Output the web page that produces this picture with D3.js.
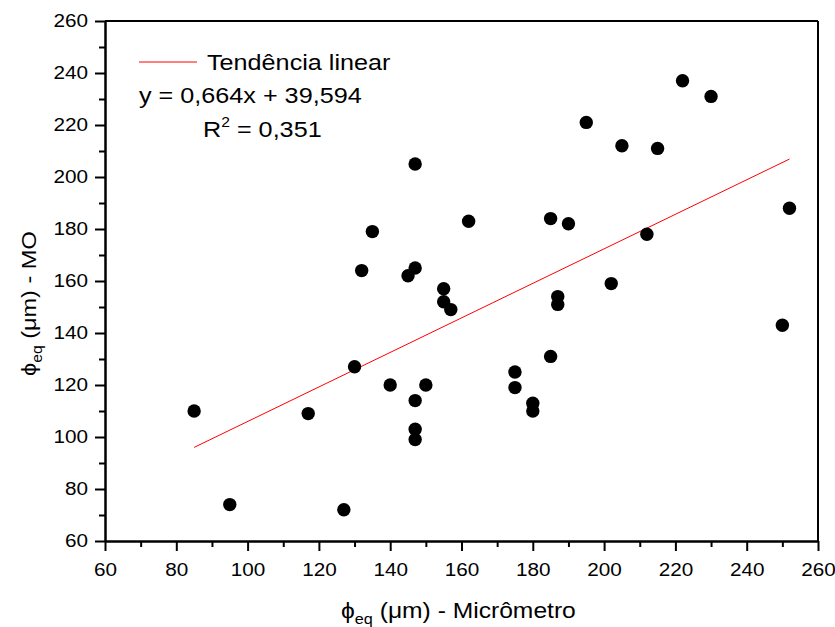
<!DOCTYPE html>
<html>
<head>
<meta charset="utf-8">
<script src="https://cdnjs.cloudflare.com/ajax/libs/d3/7.8.5/d3.min.js"></script>
<style>
  body { margin: 0; background: #fff; }
  text { font-family: "Liberation Sans", Arial, sans-serif; fill: #000; }
</style>
</head>
<body>
<div id="chart"></div>
<script>
// data
var diamMicro = [85, 95, 117, 127, 130, 132, 135, 140, 145, 147, 147, 147, 147, 147, 150,
                 155, 155, 157, 162, 175, 175, 180, 180, 185, 185, 187, 187, 190, 195, 202,
                 205, 212, 215, 222, 230, 250, 252];
var diamMO    = [110, 74, 109, 72, 127, 164, 179, 120, 162, 205, 165, 114, 103, 99, 120,
                 157, 152, 149, 183, 125, 119, 113, 110, 184, 131, 154, 151, 182, 221, 159,
                 212, 178, 211, 237, 231, 143, 188];

// linear fit end points
var trendX = [85, 252];
var trendY = [96.0, 206.9];

var xTicks = [60, 80, 100, 120, 140, 160, 180, 200, 220, 240, 260];
var xMinor = [70, 90, 110, 130, 150, 170, 190, 210, 230, 250];
var yTicks = [60, 80, 100, 120, 140, 160, 180, 200, 220, 240, 260];
var yMinor = [70, 90, 110, 130, 150, 170, 190, 210, 230, 250];

var STRETCH = 1.12;

var margin = {top: 21, right: 17, bottom: 86, left: 105};
var width = 835 - margin.left - margin.right;
var height = 627 - margin.top - margin.bottom;

var svg = d3.select("#chart").append("svg")
    .attr("width", 835)
    .attr("height", 627);

var g = svg.append("g")
    .attr("transform", "translate(" + margin.left + "," + margin.top + ")");

var x = d3.scaleLinear().domain([60, 260]).range([0, width]);
var y = d3.scaleLinear().domain([60, 260]).range([height, 0]);

// widen text a bit, the original glyphs are stretched sideways
function widen(sel) {
    sel.each(function() {
        var t = d3.select(this);
        var tx = +t.attr("x") || 0;
        var ty = +t.attr("y") || 0;
        t.attr("x", 0).attr("y", 0)
            .attr("transform", "translate(" + tx + "," + ty + ") scale(" + STRETCH + ",1)");
    });
}

// frame top and right
g.append("line")
    .attr("x1", 0).attr("x2", width)
    .attr("y1", 0).attr("y2", 0)
    .attr("stroke", "#000").attr("stroke-width", 2);
g.append("line")
    .attr("x1", width).attr("x2", width)
    .attr("y1", 0).attr("y2", height)
    .attr("stroke", "#000").attr("stroke-width", 2);

// minor ticks
g.append("g")
    .attr("class", "x-minor")
    .attr("transform", "translate(0," + height + ")")
    .call(d3.axisBottom(x).tickValues(xMinor).tickSize(6).tickSizeOuter(0).tickFormat(""));
g.append("g")
    .attr("class", "y-minor")
    .call(d3.axisLeft(y).tickValues(yMinor).tickSize(6).tickSizeOuter(0).tickFormat(""));

// main axes
var xAxis = g.append("g")
    .attr("class", "x-axis")
    .attr("transform", "translate(0," + height + ")")
    .call(d3.axisBottom(x).tickValues(xTicks).tickSize(10).tickSizeOuter(0).tickPadding(12));
var yAxis = g.append("g")
    .attr("class", "y-axis")
    .call(d3.axisLeft(y).tickValues(yTicks).tickSize(10).tickSizeOuter(0).tickPadding(7));

g.selectAll(".x-axis, .y-axis, .x-minor, .y-minor").selectAll("path, line")
    .attr("stroke", "#000")
    .attr("stroke-width", 2);

g.selectAll(".x-axis text, .y-axis text")
    .style("font-size", "18.5px")
    .attr("fill", "#000");
widen(g.selectAll(".x-axis text, .y-axis text"));

// trend line
g.append("line")
    .attr("x1", x(trendX[0])).attr("y1", y(trendY[0]))
    .attr("x2", x(trendX[1])).attr("y2", y(trendY[1]))
    .attr("stroke", "#ff0000")
    .attr("stroke-width", 1);

// points
g.selectAll(".dot")
    .data(diamMicro)
    .enter().append("circle")
    .attr("class", "dot")
    .attr("cx", function(d) { return x(d); })
    .attr("cy", function(d, i) { return y(diamMO[i]); })
    .attr("r", 6.7)
    .attr("fill", "#000");

// legend
svg.append("line")
    .attr("x1", 139).attr("x2", 197)
    .attr("y1", 62).attr("y2", 62)
    .attr("stroke", "#ff0000").attr("stroke-width", 1);

var leg = svg.append("text")
    .attr("x", 207).attr("y", 69.5)
    .style("font-size", "22.5px")
    .text("Tendência linear");
widen(leg);

var eq = svg.append("text")
    .attr("x", 139).attr("y", 103)
    .style("font-size", "22.5px")
    .text("y = 0,664x + 39,594");
widen(eq);

var r2 = svg.append("text")
    .attr("x", 203).attr("y", 137)
    .style("font-size", "22.5px");
r2.append("tspan").text("R");
r2.append("tspan").attr("dy", -10).style("font-size", "14px").text("2");
r2.append("tspan").attr("dy", 10).text(" = 0,351");
widen(r2);

// axis titles
var xTitle = svg.append("text")
    .attr("x", 341).attr("y", 618)
    .style("font-size", "22px");
xTitle.append("tspan").text("ϕ");
xTitle.append("tspan").attr("dy", 6).style("font-size", "14.5px").text("eq");
xTitle.append("tspan").attr("dy", -6).text(" (μm) - Micrômetro");
widen(xTitle);

var yTitle = svg.append("text")
    .attr("transform", "translate(36,376) rotate(-90) scale(" + STRETCH + ",1)")
    .style("font-size", "21px");
yTitle.append("tspan").text("ϕ");
yTitle.append("tspan").attr("dy", 6).style("font-size", "14px").text("eq");
yTitle.append("tspan").attr("dy", -6).text(" (μm) - MO");
</script>
</body>
</html>
